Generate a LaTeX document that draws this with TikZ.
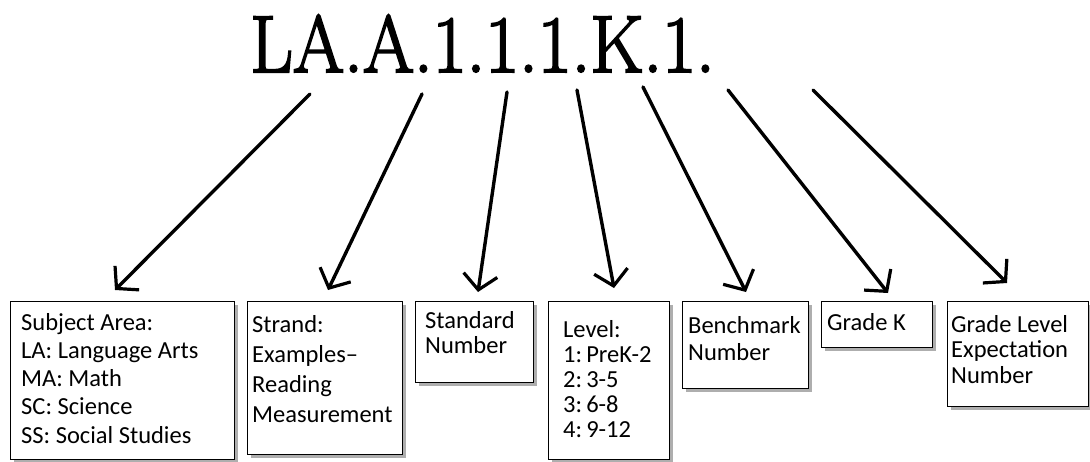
\documentclass[tikz,border=0pt]{standalone}
\usepackage{fontspec}
\newfontfamily\boxfont{Carlito}[Ligatures=TeX]
\newfontfamily\titlefont{Latin Modern Roman}[FakeBold=2.5]
\usetikzlibrary{arrows.meta,shadows}
\tikzset{
  infobox/.style={draw=black, line width=1.4pt, fill=white,
    drop shadow={shadow xshift=3pt, shadow yshift=-3pt, opacity=0.45, fill=black!70}},
  arr/.style={line width=3.4pt, line cap=round, line join=round,
    -{Straight Barb[length=15pt,width=34pt,line width=3.2pt]}},
  txt/.style={anchor=base west, inner sep=0pt, font=\boxfont\fontsize{24.5}{28}\selectfont}
}
\newcommand{\boxlines}[2]{\vtop{\baselineskip=#1pt #2}}
\begin{document}
\begin{tikzpicture}[x=1pt,y=-1pt]
\useasboundingbox (0,0) rectangle (1090,461);
\fill[white] (0,0) rectangle (1090,461);

% title
\node[anchor=base west, inner sep=0pt, font=\titlefont\fontsize{81}{81}\selectfont] (title) at (250,72)
  {\scalebox{0.915}[1]{LA.A.1.1.1.K.1.}};

% boxes
\node[infobox, anchor=north west, minimum width=224pt, minimum height=158pt, inner sep=0pt] (b1) at (10,301) {};
\node[infobox, anchor=north west, minimum width=155pt, minimum height=153pt, inner sep=0pt] (b2) at (247,301) {};
\node[infobox, anchor=north west, minimum width=118pt, minimum height=81pt, inner sep=0pt] (b3) at (415,301) {};
\node[infobox, anchor=north west, minimum width=121pt, minimum height=158pt, inner sep=0pt] (b4) at (548,301) {};
\node[infobox, anchor=north west, minimum width=126pt, minimum height=87pt, inner sep=0pt] (b5) at (682,301) {};
\node[infobox, anchor=north west, minimum width=111pt, minimum height=46pt, inner sep=0pt] (b6) at (821,301) {};
\node[infobox, anchor=north west, minimum width=141pt, minimum height=105pt, inner sep=0pt] (b7) at (947,301) {};

% texts
\node[txt] (t1) at (21,330) {\boxlines{28.3}{\hbox{Subject Area:}\hbox{LA: Language Arts}\hbox{MA: Math}\hbox{SC: Science}\hbox{SS: Social Studies}}};
\node[txt] (t2) at (252,332) {\boxlines{30.3}{\hbox{Strand:}\hbox{Examples–}\hbox{Reading}\hbox{Measurement}}};
\node[txt] (t3) at (425,328) {\boxlines{25}{\hbox{Standard}\hbox{Number}}};
\node[txt] (t4) at (563,337) {\boxlines{25}{\hbox{Level:}\hbox{1:\,PreK-2}\hbox{2:\,3-5}\hbox{3:\,6-8}\hbox{4:\,9-12}}};
\node[txt] (t5) at (688,333) {\boxlines{27}{\hbox{Benchmark}\hbox{Number}}};
\node[txt] (t6) at (827,330) {Grade K};
\node[txt] (t7) at (951,332) {\boxlines{25.5}{\hbox{Grade Level}\hbox{Expectation}\hbox{Number}}};

% arrow coordinates
\coordinate (s1) at (310,94);  \coordinate (e1) at (115,290);
\coordinate (s2) at (422,94);  \coordinate (e2) at (328,290);
\coordinate (s3) at (507,92);  \coordinate (e3) at (478,292);
\coordinate (s4) at (577,90);  \coordinate (e4) at (614,288);
\coordinate (s5) at (643,87);  \coordinate (e5) at (746,292);
\coordinate (s6) at (728,90);  \coordinate (e6) at (888,293);
\coordinate (s7) at (813,90);  \coordinate (e7) at (1007,283);

\foreach \i in {1,...,7} {
  \draw[arr] (s\i) -- (e\i);
}
\end{tikzpicture}
\end{document}
